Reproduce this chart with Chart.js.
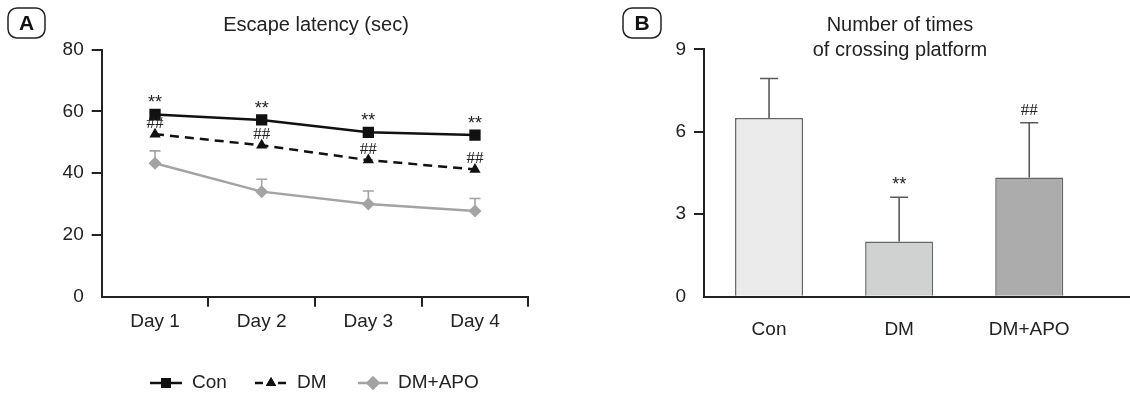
<!DOCTYPE html>
<html>
<head>
<meta charset="utf-8">
<script src="https://cdn.jsdelivr.net/npm/chart.js@4.4.1/dist/chart.umd.min.js"></script>
<style>
  body { margin: 0; background: #fff; }
  #wrap { position: relative; width: 1130px; height: 395px; }
  #chartA { position: absolute; left: 0; top: 0; }
  #chartB { position: absolute; left: 600px; top: 0; }
</style>
</head>
<body>
<div id="wrap">
  <canvas id="chartA" width="560" height="395"></canvas>
  <canvas id="chartB" width="530" height="395"></canvas>
</div>
<script>
// Panel A: escape latency (sec)
const days = ['Day 1', 'Day 2', 'Day 3', 'Day 4'];
const conLatency = [59.0, 57.2, 53.2, 52.3];
const dmLatency = [52.6, 49.0, 44.2, 41.2];
const apoLatency = [43.2, 34.0, 30.0, 27.7];
const apoLatencyErr = [4.0, 4.0, 4.2, 4.1];
const conMarks = ['**', '**', '**', '**'];
const dmMarks = ['##', '##', '##', '##'];
const latencyTicks = [0, 20, 40, 60, 80];

// Panel B: number of times of crossing platform
const groups = ['Con', 'DM', 'DM+APO'];
const crossings = [6.5, 2.01, 4.34];
const crossingsErr = [1.44, 1.61, 1.99];
const crossingMarks = ['', '**', '##'];
const crossingTicks = [0, 3, 6, 9];

const INK = '#222';
const GREY = '#a3a3a3';
const SANS = '"Liberation Sans", Arial, sans-serif';
const SERIF = '"Liberation Serif", "Times New Roman", serif';
Chart.defaults.font.family = SANS;
Chart.defaults.font.size = 19;
Chart.defaults.color = INK;

// no tick stub at the origin
const skipFirst = ctx => (ctx.index === 0 ? 'rgba(0,0,0,0)' : INK);

function panelLabel(ctx, x, y, w, h, text) {
  ctx.save();
  ctx.strokeStyle = INK;
  ctx.lineWidth = 1.5;
  ctx.beginPath();
  ctx.roundRect(x, y, w, h, 9);
  ctx.stroke();
  ctx.fillStyle = '#111';
  ctx.font = 'bold 21px ' + SANS;
  ctx.textAlign = 'center';
  ctx.textBaseline = 'middle';
  ctx.fillText(text, x + w / 2, y + h / 2 + 1);
  ctx.restore();
}

function legendItem(ctx, x1, x2, y, color, dash, style, r, label) {
  ctx.save();
  ctx.strokeStyle = color;
  ctx.lineWidth = 2.5;
  ctx.setLineDash(dash);
  ctx.beginPath();
  ctx.moveTo(x1, y);
  ctx.lineTo(x2, y);
  ctx.stroke();
  ctx.setLineDash([]);
  ctx.fillStyle = color;
  Chart.helpers.drawPoint(ctx, { pointStyle: style, radius: r, borderWidth: 0, rotation: 0 }, (x1 + x2) / 2, y);
  ctx.fill();
  ctx.fillStyle = INK;
  ctx.font = '19px ' + SANS;
  ctx.textBaseline = 'middle';
  ctx.textAlign = 'left';
  ctx.fillText(label, x2 + 10, y);
  ctx.restore();
}

const latencyDecor = {
  id: 'latencyDecor',
  afterDatasetsDraw(chart) {
    const ctx = chart.ctx;
    const x = chart.scales.x, y = chart.scales.y;
    // upper error bars for DM+APO
    ctx.save();
    ctx.strokeStyle = GREY;
    ctx.lineWidth = 1.6;
    apoLatency.forEach((v, i) => {
      const px = x.getPixelForValue(i);
      const top = y.getPixelForValue(v + apoLatencyErr[i]);
      ctx.beginPath();
      ctx.moveTo(px, y.getPixelForValue(v));
      ctx.lineTo(px, top);
      ctx.moveTo(px - 5.5, top);
      ctx.lineTo(px + 5.5, top);
      ctx.stroke();
    });
    ctx.restore();
  },
  afterDraw(chart) {
    const ctx = chart.ctx;
    const x = chart.scales.x, y = chart.scales.y;
    ctx.save();
    ctx.fillStyle = INK;
    ctx.textAlign = 'center';
    ctx.textBaseline = 'middle';
    ctx.font = '18px ' + SANS;
    conLatency.forEach((v, i) => {
      ctx.fillText(conMarks[i], x.getPixelForValue(i), y.getPixelForValue(v) - 11);
    });
    ctx.font = '17px ' + SERIF;
    dmLatency.forEach((v, i) => {
      ctx.fillText(dmMarks[i], x.getPixelForValue(i), y.getPixelForValue(v) - 11);
    });
    ctx.font = '20px ' + SANS;
    ctx.fillText('Escape latency (sec)', 316, 25);
    ctx.restore();
    panelLabel(ctx, 8, 8, 37, 30, 'A');
    legendItem(ctx, 150, 182, 383, '#111', [], 'rect', 7, 'Con');
    legendItem(ctx, 255, 287, 383, '#111', [8, 6, 3, 6], 'triangle', 6, 'DM');
    legendItem(ctx, 358, 388, 383, GREY, [], 'rectRot', 7, 'DM+APO');
  }
};

new Chart(document.getElementById('chartA'), {
  type: 'line',
  data: {
    labels: days,
    datasets: [
      { label: 'Con', data: conLatency, borderColor: '#111', backgroundColor: '#111', borderWidth: 2.5,
        pointStyle: 'rect', pointRadius: 8, pointBorderWidth: 0 },
      { label: 'DM', data: dmLatency, borderColor: '#111', backgroundColor: '#111', borderWidth: 2.5,
        borderDash: [9, 6], pointStyle: 'triangle', pointRadius: 6.5, pointBorderWidth: 0 },
      { label: 'DM+APO', data: apoLatency, borderColor: GREY, backgroundColor: GREY, borderWidth: 2.5,
        pointStyle: 'rectRot', pointRadius: 6.5, pointBorderWidth: 0 }
    ]
  },
  options: {
    responsive: false,
    animation: false,
    layout: { padding: { left: 0, top: 49.5, right: 31.7, bottom: 0 } },
    plugins: { legend: { display: false }, tooltip: { enabled: false } },
    scales: {
      x: {
        offset: true,
        grid: { offset: true, drawOnChartArea: false, tickLength: 10, color: skipFirst, lineWidth: 2 },
        border: { color: INK, width: 2 },
        ticks: { padding: 4 },
        afterFit: s => { s.height = 98.3; }
      },
      y: {
        min: 0, max: 80,
        afterBuildTicks: s => { s.ticks = latencyTicks.map(v => ({ value: v })); },
        grid: { drawOnChartArea: false, tickLength: 10, color: skipFirst, lineWidth: 2 },
        border: { color: INK, width: 2 },
        ticks: { padding: 8 },
        afterFit: s => { s.width = 101.7; }
      }
    }
  },
  plugins: [latencyDecor]
});

const crossingDecor = {
  id: 'crossingDecor',
  afterDatasetsDraw(chart) {
    const ctx = chart.ctx;
    const x = chart.scales.x, y = chart.scales.y;
    ctx.save();
    ctx.strokeStyle = '#5a5a5a';
    ctx.lineWidth = 1.6;
    crossings.forEach((v, i) => {
      const px = x.getPixelForValue(i);
      const top = y.getPixelForValue(v + crossingsErr[i]);
      ctx.beginPath();
      ctx.moveTo(px, y.getPixelForValue(v));
      ctx.lineTo(px, top);
      ctx.moveTo(px - 9, top);
      ctx.lineTo(px + 9, top);
      ctx.stroke();
    });
    // x axis line, running on past the last bar to the panel edge
    const ay = Math.round(x.top - 1) + 1;
    ctx.strokeStyle = INK;
    ctx.lineWidth = 2;
    ctx.beginPath();
    ctx.moveTo(chart.chartArea.left - 1, ay);
    ctx.lineTo(chart.width, ay);
    ctx.stroke();
    ctx.restore();
  },
  afterDraw(chart) {
    const ctx = chart.ctx;
    const x = chart.scales.x, y = chart.scales.y;
    ctx.save();
    ctx.fillStyle = INK;
    ctx.textAlign = 'center';
    ctx.textBaseline = 'middle';
    crossings.forEach((v, i) => {
      const m = crossingMarks[i];
      if (!m) return;
      ctx.font = m === '##' ? '17px ' + SERIF : '18px ' + SANS;
      ctx.fillText(m, x.getPixelForValue(i), y.getPixelForValue(v + crossingsErr[i]) - 12);
    });
    ctx.font = '20px ' + SANS;
    ctx.fillText('Number of times', 300, 25);
    ctx.fillText('of crossing platform', 300, 50);
    ctx.restore();
    panelLabel(ctx, 23, 8, 38, 30, 'B');
  }
};

new Chart(document.getElementById('chartB'), {
  type: 'bar',
  data: {
    labels: groups,
    datasets: [{
      label: 'Number of times of crossing platform',
      data: crossings,
      backgroundColor: ['#ebebeb', '#d0d2d1', '#acacac'],
      borderColor: '#666',
      borderWidth: 1.5,
      borderSkipped: 'bottom',
      barPercentage: 0.523,
      categoryPercentage: 1
    }]
  },
  options: {
    responsive: false,
    animation: false,
    layout: { padding: { left: 0, top: 49.3, right: 35.7, bottom: 0 } },
    plugins: { legend: { display: false }, tooltip: { enabled: false } },
    scales: {
      x: {
        grid: { display: false },
        border: { display: false },
        ticks: { padding: 14 },
        afterFit: s => { s.height = 98.3; }
      },
      y: {
        min: 0, max: 9,
        afterBuildTicks: s => { s.ticks = crossingTicks.map(v => ({ value: v })); },
        grid: { drawOnChartArea: false, tickLength: 10, color: skipFirst, lineWidth: 2 },
        border: { color: INK, width: 2 },
        ticks: { padding: 8 },
        afterFit: s => { s.width = 104; }
      }
    }
  },
  plugins: [crossingDecor]
});
</script>
</body>
</html>
